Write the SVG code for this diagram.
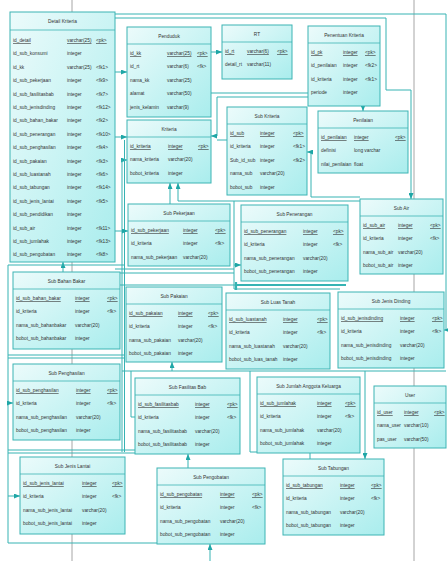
<svg xmlns="http://www.w3.org/2000/svg" width="448" height="561" viewBox="0 0 448 561">
<defs>
<linearGradient id="g" x1="0" y1="0" x2="1" y2="1"><stop offset="0" stop-color="#ecfbfb"/><stop offset="1" stop-color="#a9eded"/></linearGradient>
<marker id="a" viewBox="0 0 6 5" refX="6" refY="2.5" markerWidth="6" markerHeight="5" markerUnits="userSpaceOnUse" orient="auto"><path d="M0 0L6 2.5L0 5z" fill="#1fa6a6"/></marker>
<style>
.b{fill:url(#g);stroke:#3cb4b4;stroke-width:1}
.s{stroke:#3cb4b4;stroke-width:.8;fill:none}
text{font-family:"Liberation Sans",Arial,sans-serif;font-size:6px;fill:#333}
.h{text-anchor:middle}
.u{text-decoration:underline}
.c path{fill:none;stroke:#36b3b3;stroke-width:1}
.c .ar{marker-end:url(#a)}
.c .w{stroke-width:2.2}
.gl{stroke:#a6a6a6;stroke-width:1}
</style>
</defs>
<rect width="448" height="561" fill="#fff"/>
<path class="gl" d="M72 0V561M414 0V561"/>
<g id="connectors" class="c">
<path d="M115 14H446V330H444" class="ar"/>
<path d="M115 18H386V90H411V199" class="ar"/>
<path d="M115 72H127" class="ar"/>
<path d="M211 52H222" class="ar"/>
<path d="M308 97H217V136H211" class="ar"/>
<path d="M211 93H308"/>
<path d="M227 140H217"/>
<path d="M363 106V111" class="ar"/>
<path d="M360 197H311V152H307" class="ar"/>
<path d="M360 201H178V183" class="ar"/>
<path d="M170 204V183" class="ar"/>
<path d="M115 137H127" class="ar"/>
<path d="M122 160H127" class="ar"/>
<path d="M122 160V452M124.5 140V452"/>
<path d="M115 231H128" class="ar"/>
<path d="M234 201V265H241" class="ar"/>
<path d="M234 265V289H340"/>
<path d="M115 269H234M115 273H234"/>
<path d="M120 285H236"/>
<path d="M236 285H346M236 282V290" class="w"/>
<path d="M63 272V262" class="ar"/>
<path d="M8 265H124"/>
<path d="M8 265V543H157"/>
<path d="M8 403H13" class="ar"/>
<path d="M8 496H20" class="ar"/>
<path d="M8 355H125M8 358H125"/>
<path d="M122 371H446"/>
<path d="M172 371V362" class="ar"/>
<path d="M131 371V417H135"/>
<path d="M250 371V452H257"/>
<path d="M8 450H135M8 453H135"/>
<path d="M188 468V454" class="ar"/>
<path d="M365 371V459" class="ar"/>
<path d="M310 453V459"/>
<path d="M210 561V544" class="ar"/>
</g>

<g id="detail-kriteria" transform="translate(10,12)">
<rect class="b" width="105" height="250"/><path class="s" d="M0 18H105"/>
<g transform="scale(.8,1)">
<text class="h" x="65.6" y="11">Detail Kriteria</text>
<text class="u" y="30"><tspan x="3.75">id_detail</tspan><tspan x="71.25">varchar(25)</tspan><tspan x="107.5">&lt;pk&gt;</tspan></text>
<text y="43.4"><tspan x="3.75">id_sub_konsumi</tspan><tspan x="71.25">integer</tspan></text>
<text y="56.8"><tspan x="3.75">id_kk</tspan><tspan x="71.25">varchar(25)</tspan><tspan x="107.5">&lt;fk1&gt;</tspan></text>
<text y="70.2"><tspan x="3.75">id_sub_pekerjaan</tspan><tspan x="71.25">integer</tspan><tspan x="107.5">&lt;fk9&gt;</tspan></text>
<text y="83.6"><tspan x="3.75">id_sub_fasilitasbab</tspan><tspan x="71.25">integer</tspan><tspan x="107.5">&lt;fk7&gt;</tspan></text>
<text y="97"><tspan x="3.75">id_sub_jenisdinding</tspan><tspan x="71.25">integer</tspan><tspan x="107.5">&lt;fk12&gt;</tspan></text>
<text y="110.4"><tspan x="3.75">id_sub_bahan_bakar</tspan><tspan x="71.25">integer</tspan><tspan x="107.5">&lt;fk2&gt;</tspan></text>
<text y="123.8"><tspan x="3.75">id_sub_penerangan</tspan><tspan x="71.25">integer</tspan><tspan x="107.5">&lt;fk10&gt;</tspan></text>
<text y="137.2"><tspan x="3.75">id_sub_penghasilan</tspan><tspan x="71.25">integer</tspan><tspan x="107.5">&lt;fk4&gt;</tspan></text>
<text y="150.6"><tspan x="3.75">id_sub_pakaian</tspan><tspan x="71.25">integer</tspan><tspan x="107.5">&lt;fk3&gt;</tspan></text>
<text y="164"><tspan x="3.75">id_sub_luastanah</tspan><tspan x="71.25">integer</tspan><tspan x="107.5">&lt;fk6&gt;</tspan></text>
<text y="177.4"><tspan x="3.75">id_sub_tabungan</tspan><tspan x="71.25">integer</tspan><tspan x="107.5">&lt;fk14&gt;</tspan></text>
<text y="190.8"><tspan x="3.75">id_sub_jenis_lantai</tspan><tspan x="71.25">integer</tspan><tspan x="107.5">&lt;fk5&gt;</tspan></text>
<text y="204.2"><tspan x="3.75">id_sub_pendidikan</tspan><tspan x="71.25">integer</tspan></text>
<text y="217.6"><tspan x="3.75">id_sub_air</tspan><tspan x="71.25">integer</tspan><tspan x="107.5">&lt;fk11&gt;</tspan></text>
<text y="231"><tspan x="3.75">id_sub_jumlahak</tspan><tspan x="71.25">integer</tspan><tspan x="107.5">&lt;fk13&gt;</tspan></text>
<text y="244.4"><tspan x="3.75">id_sub_pengobatan</tspan><tspan x="71.25">integer</tspan><tspan x="107.5">&lt;fk8&gt;</tspan></text>
</g></g>

<g id="penduduk" transform="translate(127,27)">
<rect class="b" width="84" height="90"/><path class="s" d="M0 17H84"/>
<g transform="scale(.8,1)">
<text class="h" x="52.5" y="11">Penduduk</text>
<text class="u" y="28"><tspan x="3.75">id_kk</tspan><tspan x="50">varchar(25)</tspan><tspan x="87.5">&lt;pk&gt;</tspan></text>
<text y="41.4"><tspan x="3.75">id_rt</tspan><tspan x="50">varchar(6)</tspan><tspan x="87.5">&lt;fk&gt;</tspan></text>
<text y="54.8"><tspan x="3.75">nama_kk</tspan><tspan x="50">varchar(25)</tspan></text>
<text y="68.2"><tspan x="3.75">alamat</tspan><tspan x="50">varchar(50)</tspan></text>
<text y="81.6"><tspan x="3.75">jenis_kelamin</tspan><tspan x="50">varchar(9)</tspan></text>
</g></g>

<g id="rt" transform="translate(222,25)">
<rect class="b" width="70" height="54"/><path class="s" d="M0 17H70"/>
<g transform="scale(.8,1)">
<text class="h" x="43.75" y="11">RT</text>
<text class="u" y="28"><tspan x="3.75">id_rt</tspan><tspan x="31.25">varchar(6)</tspan><tspan x="68.75">&lt;pk&gt;</tspan></text>
<text y="41.4"><tspan x="3.75">detail_rt</tspan><tspan x="31.25">varchar(11)</tspan></text>
</g></g>

<g id="penentuan-kriteria" transform="translate(308,26)">
<rect class="b" width="72" height="80"/><path class="s" d="M0 17H72"/>
<g transform="scale(.8,1)">
<text class="h" x="45" y="11">Penentuan Kriteria</text>
<text class="u" y="28"><tspan x="3.75">id_pk</tspan><tspan x="43.75">integer</tspan><tspan x="71.25">&lt;pk&gt;</tspan></text>
<text y="41.4"><tspan x="3.75">id_penilaian</tspan><tspan x="43.75">integer</tspan><tspan x="71.25">&lt;fk2&gt;</tspan></text>
<text y="54.8"><tspan x="3.75">id_kriteria</tspan><tspan x="43.75">integer</tspan><tspan x="71.25">&lt;fk1&gt;</tspan></text>
<text y="68.2"><tspan x="3.75">periode</tspan><tspan x="43.75">integer</tspan></text>
</g></g>

<g id="kriteria" transform="translate(127,120)">
<rect class="b" width="84" height="63"/><path class="s" d="M0 17H84"/>
<g transform="scale(.8,1)">
<text class="h" x="52.5" y="11">Kriteria</text>
<text class="u" y="28"><tspan x="3.75">id_kriteria</tspan><tspan x="51.25">integer</tspan><tspan x="88.75">&lt;pk&gt;</tspan></text>
<text y="41.4"><tspan x="3.75">nama_kriteria</tspan><tspan x="51.25">varchar(20)</tspan></text>
<text y="54.8"><tspan x="3.75">bobot_kriteria</tspan><tspan x="51.25">integer</tspan></text>
</g></g>

<g id="sub-kriteria" transform="translate(227,107)">
<rect class="b" width="80" height="88"/><path class="s" d="M0 17H80"/>
<g transform="scale(.8,1)">
<text class="h" x="50" y="11">Sub Kriteria</text>
<text class="u" y="28"><tspan x="3.75">id_sub</tspan><tspan x="41.25">integer</tspan><tspan x="82.5">&lt;pk&gt;</tspan></text>
<text y="41.4"><tspan x="3.75">id_kriteria</tspan><tspan x="41.25">integer</tspan><tspan x="82.5">&lt;fk1&gt;</tspan></text>
<text y="54.8"><tspan x="3.75">Sub_id_sub</tspan><tspan x="41.25">integer</tspan><tspan x="82.5">&lt;fk2&gt;</tspan></text>
<text y="68.2"><tspan x="3.75">nama_sub</tspan><tspan x="41.25">varchar(20)</tspan></text>
<text y="81.6"><tspan x="3.75">bobot_sub</tspan><tspan x="41.25">integer</tspan></text>
</g></g>

<g id="penilaian" transform="translate(318,111)">
<rect class="b" width="90" height="62"/><path class="s" d="M0 17H90"/>
<g transform="scale(.8,1)">
<text class="h" x="56.25" y="11">Penilaian</text>
<text class="u" y="28"><tspan x="3.75">id_penilaian</tspan><tspan x="45">integer</tspan><tspan x="96.25">&lt;pk&gt;</tspan></text>
<text y="41.4"><tspan x="3.75">definisi</tspan><tspan x="45">long varchar</tspan></text>
<text y="54.8"><tspan x="3.75">nilai_penilaian</tspan><tspan x="45">float</tspan></text>
</g></g>

<g id="sub-pekerjaan" transform="translate(128,204)">
<rect class="b" width="102" height="62"/><path class="s" d="M0 17H102"/>
<g transform="scale(.8,1)">
<text class="h" x="63.75" y="11">Sub Pekerjaan</text>
<text class="u" y="28"><tspan x="3.75">id_sub_pekerjaan</tspan><tspan x="68.75">integer</tspan><tspan x="108.75">&lt;pk&gt;</tspan></text>
<text y="41.4"><tspan x="3.75">id_kriteria</tspan><tspan x="68.75">integer</tspan><tspan x="108.75">&lt;fk&gt;</tspan></text>
<text y="54.8"><tspan x="3.75">nama_sub_pekerjaan</tspan><tspan x="68.75">varchar(20)</tspan></text>
</g></g>

<g id="sub-penerangan" transform="translate(241,205)">
<rect class="b" width="107" height="76"/><path class="s" d="M0 17H107"/>
<g transform="scale(.8,1)">
<text class="h" x="66.875" y="11">Sub Penerangan</text>
<text class="u" y="28"><tspan x="3.75">id_sub_penerangan</tspan><tspan x="77.5">integer</tspan><tspan x="115">&lt;pk&gt;</tspan></text>
<text y="41.4"><tspan x="3.75">id_kriteria</tspan><tspan x="77.5">integer</tspan><tspan x="115">&lt;fk&gt;</tspan></text>
<text y="54.8"><tspan x="3.75">nama_sub_penerangan</tspan><tspan x="77.5">varchar(20)</tspan></text>
<text y="68.2"><tspan x="3.75">bobot_sub_penerangan</tspan><tspan x="77.5">integer</tspan></text>
</g></g>

<g id="sub-air" transform="translate(360,199)">
<rect class="b" width="83" height="75"/><path class="s" d="M0 17H83"/>
<g transform="scale(.8,1)">
<text class="h" x="51.875" y="11">Sub Air</text>
<text class="u" y="28"><tspan x="3.75">id_sub_air</tspan><tspan x="47.5">integer</tspan><tspan x="87.5">&lt;pk&gt;</tspan></text>
<text y="41.4"><tspan x="3.75">id_kriteria</tspan><tspan x="47.5">integer</tspan><tspan x="87.5">&lt;fk&gt;</tspan></text>
<text y="54.8"><tspan x="3.75">nama_sub_air</tspan><tspan x="47.5">varchar(20)</tspan></text>
<text y="68.2"><tspan x="3.75">bobot_sub_air</tspan><tspan x="47.5">integer</tspan></text>
</g></g>

<g id="sub-bahan-bakar" transform="translate(13,272)">
<rect class="b" width="107" height="77"/><path class="s" d="M0 17H107"/>
<g transform="scale(.8,1)">
<text class="h" x="66.875" y="11">Sub Bahan Bakar</text>
<text class="u" y="28"><tspan x="3.75">id_sub_bahan_bakar</tspan><tspan x="77.5">integer</tspan><tspan x="117.5">&lt;pk&gt;</tspan></text>
<text y="41.4"><tspan x="3.75">id_kriteria</tspan><tspan x="77.5">integer</tspan><tspan x="117.5">&lt;fk&gt;</tspan></text>
<text y="54.8"><tspan x="3.75">nama_sub_bahanbakar</tspan><tspan x="77.5">varchar(20)</tspan></text>
<text y="68.2"><tspan x="3.75">bobot_sub_bahanbakar</tspan><tspan x="77.5">integer</tspan></text>
</g></g>

<g id="sub-pakaian" transform="translate(126,287)">
<rect class="b" width="96" height="75"/><path class="s" d="M0 17H96"/>
<g transform="scale(.8,1)">
<text class="h" x="60" y="11">Sub Pakaian</text>
<text class="u" y="28"><tspan x="3.75">id_sub_pakaian</tspan><tspan x="65">integer</tspan><tspan x="102.5">&lt;pk&gt;</tspan></text>
<text y="41.4"><tspan x="3.75">id_kriteria</tspan><tspan x="65">integer</tspan><tspan x="102.5">&lt;fk&gt;</tspan></text>
<text y="54.8"><tspan x="3.75">nama_sub_pakaian</tspan><tspan x="65">varchar(20)</tspan></text>
<text y="68.2"><tspan x="3.75">bobot_sub_pakaian</tspan><tspan x="65">integer</tspan></text>
</g></g>

<g id="sub-luas-tanah" transform="translate(226,293)">
<rect class="b" width="104" height="76"/><path class="s" d="M0 17H104"/>
<g transform="scale(.8,1)">
<text class="h" x="65" y="11">Sub Luas Tanah</text>
<text class="u" y="28"><tspan x="3.75">id_sub_luastanah</tspan><tspan x="71.25">integer</tspan><tspan x="113.75">&lt;pk&gt;</tspan></text>
<text y="41.4"><tspan x="3.75">id_kriteria</tspan><tspan x="71.25">integer</tspan><tspan x="113.75">&lt;fk&gt;</tspan></text>
<text y="54.8"><tspan x="3.75">nama_sub_luastanah</tspan><tspan x="71.25">varchar(20)</tspan></text>
<text y="68.2"><tspan x="3.75">bobot_sub_luas_tanah</tspan><tspan x="71.25">integer</tspan></text>
</g></g>

<g id="sub-jenis-dinding" transform="translate(338,292)">
<rect class="b" width="106" height="76"/><path class="s" d="M0 17H106"/>
<g transform="scale(.8,1)">
<text class="h" x="66.25" y="11">Sub Jenis Dinding</text>
<text class="u" y="28"><tspan x="3.75">id_sub_jenisdinding</tspan><tspan x="77.5">integer</tspan><tspan x="117.5">&lt;pk&gt;</tspan></text>
<text y="41.4"><tspan x="3.75">id_kriteria</tspan><tspan x="77.5">integer</tspan><tspan x="117.5">&lt;fk&gt;</tspan></text>
<text y="54.8"><tspan x="3.75">nama_sub_jenisdinding</tspan><tspan x="77.5">varchar(20)</tspan></text>
<text y="68.2"><tspan x="3.75">bobot_sub_jenisdinding</tspan><tspan x="77.5">integer</tspan></text>
</g></g>

<g id="sub-penghasilan" transform="translate(13,364)">
<rect class="b" width="107" height="76"/><path class="s" d="M0 17H107"/>
<g transform="scale(.8,1)">
<text class="h" x="66.875" y="11">Sub Penghasilan</text>
<text class="u" y="28"><tspan x="3.75">id_sub_penghasilan</tspan><tspan x="78.75">integer</tspan><tspan x="117.5">&lt;pk&gt;</tspan></text>
<text y="41.4"><tspan x="3.75">id_kriteria</tspan><tspan x="78.75">integer</tspan><tspan x="117.5">&lt;fk&gt;</tspan></text>
<text y="54.8"><tspan x="3.75">nama_sub_penghasilan</tspan><tspan x="78.75">varchar(20)</tspan></text>
<text y="68.2"><tspan x="3.75">bobot_sub_penghasilan</tspan><tspan x="78.75">integer</tspan></text>
</g></g>

<g id="sub-fasilitas-bab" transform="translate(135,378)">
<rect class="b" width="105" height="76"/><path class="s" d="M0 17H105"/>
<g transform="scale(.8,1)">
<text class="h" x="65.625" y="11">Sub Fasilitas Bab</text>
<text class="u" y="28"><tspan x="3.75">id_sub_fasilitasbab</tspan><tspan x="75">integer</tspan><tspan x="115">&lt;pk&gt;</tspan></text>
<text y="41.4"><tspan x="3.75">id_kriteria</tspan><tspan x="75">integer</tspan><tspan x="115">&lt;fk&gt;</tspan></text>
<text y="54.8"><tspan x="3.75">nama_sub_fasilitasbab</tspan><tspan x="75">varchar(20)</tspan></text>
<text y="68.2"><tspan x="3.75">bobot_sub_fasilitasbab</tspan><tspan x="75">integer</tspan></text>
</g></g>

<g id="sub-jumlah-anggota-keluarga" transform="translate(257,377)">
<rect class="b" width="103" height="76"/><path class="s" d="M0 17H103"/>
<g transform="scale(.8,1)">
<text class="h" x="64.375" y="11">Sub Jumlah Anggota Keluarga</text>
<text class="u" y="28"><tspan x="3.75">id_sub_jumlahak</tspan><tspan x="75">integer</tspan><tspan x="110">&lt;pk&gt;</tspan></text>
<text y="41.4"><tspan x="3.75">id_kriteria</tspan><tspan x="75">integer</tspan><tspan x="110">&lt;fk&gt;</tspan></text>
<text y="54.8"><tspan x="3.75">nama_sub_jumlahak</tspan><tspan x="75">varchar(20)</tspan></text>
<text y="68.2"><tspan x="3.75">bobot_sub_jumlahak</tspan><tspan x="75">integer</tspan></text>
</g></g>

<g id="user" transform="translate(374,386)">
<rect class="b" width="72" height="62"/><path class="s" d="M0 17H72"/>
<g transform="scale(.8,1)">
<text class="h" x="45" y="11">User</text>
<text class="u" y="28"><tspan x="3.75">id_user</tspan><tspan x="37.5">integer</tspan><tspan x="75">&lt;pk&gt;</tspan></text>
<text y="41.4"><tspan x="3.75">nama_user</tspan><tspan x="37.5">varchar(10)</tspan></text>
<text y="54.8"><tspan x="3.75">pas_user</tspan><tspan x="37.5">varchar(50)</tspan></text>
</g></g>

<g id="sub-jenis-lantai" transform="translate(20,457)">
<rect class="b" width="105" height="77"/><path class="s" d="M0 17H105"/>
<g transform="scale(.8,1)">
<text class="h" x="65.625" y="11">Sub Jenis Lantai</text>
<text class="u" y="28"><tspan x="3.75">id_sub_jenis_lantai</tspan><tspan x="77.5">integer</tspan><tspan x="115">&lt;pk&gt;</tspan></text>
<text y="41.4"><tspan x="3.75">id_kriteria</tspan><tspan x="77.5">integer</tspan><tspan x="115">&lt;fk&gt;</tspan></text>
<text y="54.8"><tspan x="3.75">nama_sub_jenis_lantai</tspan><tspan x="77.5">varchar(20)</tspan></text>
<text y="68.2"><tspan x="3.75">bobot_sub_jenis_lantai</tspan><tspan x="77.5">integer</tspan></text>
</g></g>

<g id="sub-pengobatan" transform="translate(157,468)">
<rect class="b" width="108" height="76"/><path class="s" d="M0 17H108"/>
<g transform="scale(.8,1)">
<text class="h" x="67.5" y="11">Sub Pengobatan</text>
<text class="u" y="28"><tspan x="3.75">id_sub_pengobatan</tspan><tspan x="78.75">integer</tspan><tspan x="118.75">&lt;pk&gt;</tspan></text>
<text y="41.4"><tspan x="3.75">id_kriteria</tspan><tspan x="78.75">integer</tspan><tspan x="118.75">&lt;fk&gt;</tspan></text>
<text y="54.8"><tspan x="3.75">nama_sub_pengobatan</tspan><tspan x="78.75">varchar(20)</tspan></text>
<text y="68.2"><tspan x="3.75">bobot_sub_pengobatan</tspan><tspan x="78.75">integer</tspan></text>
</g></g>

<g id="sub-tabungan" transform="translate(283,459)">
<rect class="b" width="101" height="76"/><path class="s" d="M0 17H101"/>
<g transform="scale(.8,1)">
<text class="h" x="63.125" y="11">Sub Tabungan</text>
<text class="u" y="28"><tspan x="3.75">id_sub_tabungan</tspan><tspan x="71.25">integer</tspan><tspan x="110">&lt;pk&gt;</tspan></text>
<text y="41.4"><tspan x="3.75">id_kriteria</tspan><tspan x="71.25">integer</tspan><tspan x="110">&lt;fk&gt;</tspan></text>
<text y="54.8"><tspan x="3.75">nama_sub_tabungan</tspan><tspan x="71.25">varchar(20)</tspan></text>
<text y="68.2"><tspan x="3.75">bobot_sub_tabungan</tspan><tspan x="71.25">integer</tspan></text>
</g></g>
</svg>
